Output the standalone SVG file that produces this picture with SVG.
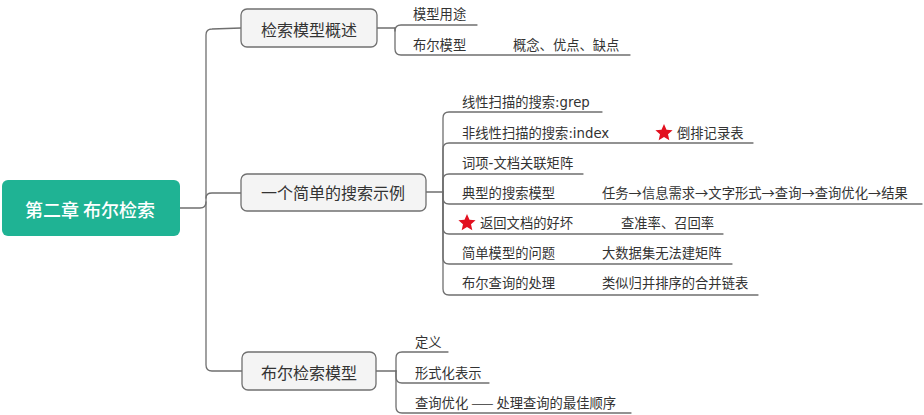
<svg xmlns="http://www.w3.org/2000/svg" width="924" height="415" viewBox="0 0 924 415">
<defs>
<style>
.conn{fill:none;stroke:#6f6f6f;stroke-width:1.3;stroke-linecap:round;stroke-linejoin:round}
.box{fill:#f4f4f4;stroke:#707070;stroke-width:1.3}
.root{fill:#1fb394}
.t{font-family:"Noto Sans CJK SC","Noto Sans",sans-serif;fill:#333333}
.tn{font-size:16px;text-anchor:middle}
.tc{font-size:13.3px}
.lat{font-family:"DejaVu Sans","Noto Sans CJK SC",sans-serif}
.tr{font-family:"Noto Sans CJK SC","Noto Sans",sans-serif;font-size:18px;font-weight:500;fill:#ffffff;text-anchor:middle}
.star{fill:#e2101f}
</style>
<polygon id="star" class="star" points="0,-9 2.5,-3.3 8.6,-2.8 4,1.3 5.3,7.3 0,4.1 -5.3,7.3 -4,1.3 -8.6,-2.8 -2.5,-3.3"/>
</defs>
<rect width="924" height="415" fill="#ffffff"/>
<g id="connectors">
<path class="conn" d="M180,208 L200,208 Q206,208 206,202 L206,35 Q206,29 212,29 L241,28"/>
<path class="conn" d="M206,202 L206,365 Q206,371 212,371 L242,371"/>
<path class="conn" d="M206,198 Q206,193 212,193 L241,193"/>
<path class="conn" d="M377,28 L395,28 L395,31 Q395,25 401,25 L477,25"/>
<path class="conn" d="M395,28 L395,49 Q395,55 401,55 L630,55"/>
<path class="conn" d="M426,192 L443,192"/>
<path class="conn" d="M443,192 L443,118 Q443,112 449,112 L602,112"/>
<path class="conn" d="M443,192 L443,149 Q443,143 449,143 L753,143"/>
<path class="conn" d="M443,192 L443,180 Q443,174 449,174 L583,174"/>
<path class="conn" d="M443,192 L443,198 Q443,204 449,204 L922,204"/>
<path class="conn" d="M443,192 L443,228 Q443,234 449,234 L723,234"/>
<path class="conn" d="M443,192 L443,258 Q443,264 449,264 L732,264"/>
<path class="conn" d="M443,192 L443,289 Q443,295 449,295 L758,295"/>
<path class="conn" d="M376,371 L396,371"/>
<path class="conn" d="M396,371 L396,358 Q396,352 402,352 L448,352"/>
<path class="conn" d="M396,371 L396,377 Q396,383 402,383 L489,383"/>
<path class="conn" d="M396,371 L396,407 Q396,413 402,413 L631,413"/>
</g>
<g id="root">
<rect class="root" x="2" y="180" width="178" height="56" rx="6"/>
<text class="tr" x="90" y="217">第二章 布尔检索</text>
</g>
<g id="node-overview">
<rect class="box" x="241" y="9" width="136" height="38" rx="6"/>
<text class="t tn" x="309" y="36">检索模型概述</text>
</g>
<g id="node-example">
<rect class="box" x="241" y="174" width="185" height="37" rx="6"/>
<text class="t tn" x="333" y="199">一个简单的搜索示例</text>
</g>
<g id="node-boolean">
<rect class="box" x="242" y="352" width="134" height="38" rx="6"/>
<text class="t tn" x="309" y="379">布尔检索模型</text>
</g>
<g id="overview-children">
<text class="t tc" x="413" y="19">模型用途</text>
<text class="t tc" x="413" y="50">布尔模型</text>
<text class="t tc" x="513" y="50">概念、优点、缺点</text>
</g>
<g id="example-children">
<text class="t tc" x="462" y="107">线性扫描的搜索<tspan class="lat">:grep</tspan></text>
<text class="t tc" x="462" y="138">非线性扫描的搜索<tspan class="lat">:index</tspan></text>
<use href="#star" x="664" y="133"/>
<text class="t tc" x="677" y="138">倒排记录表</text>
<text class="t tc" x="462" y="168">词项<tspan class="lat">-</tspan>文档关联矩阵</text>
<text class="t tc" x="462" y="198">典型的搜索模型</text>
<text class="t tc" x="602" y="198">任务→信息需求→文字形式→查询→查询优化→结果</text>
<use href="#star" x="467" y="223"/>
<text class="t tc" x="480" y="228">返回文档的好坏</text>
<text class="t tc" x="621" y="228">查准率、召回率</text>
<text class="t tc" x="462" y="258">简单模型的问题</text>
<text class="t tc" x="602" y="258">大数据集无法建矩阵</text>
<text class="t tc" x="462" y="288">布尔查询的处理</text>
<text class="t tc" x="602" y="288">类似归并排序的合并链表</text>
</g>
<g id="boolean-children">
<text class="t tc" x="415" y="347">定义</text>
<text class="t tc" x="415" y="378">形式化表示</text>
<text class="t tc" x="415" y="408">查询优化 —— 处理查询的最佳顺序</text>
</g>
</svg>
